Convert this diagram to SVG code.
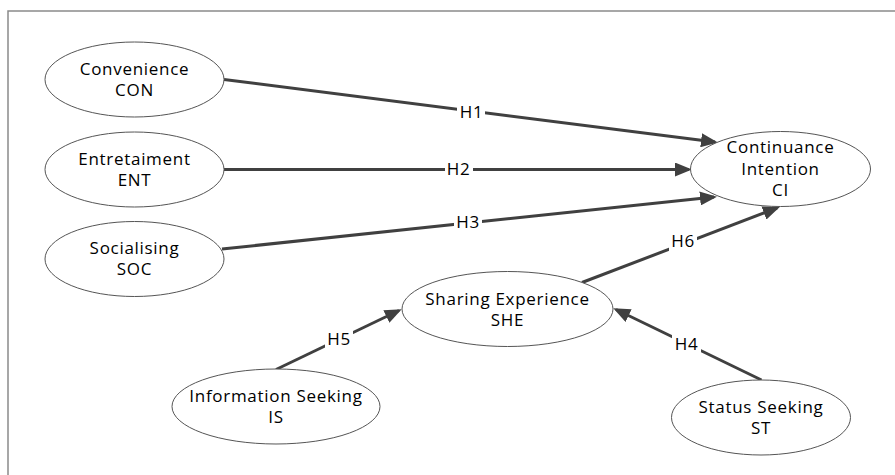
<svg xmlns="http://www.w3.org/2000/svg" width="895" height="475" viewBox="0 0 895 475">
<style>
.n ellipse{fill:#fff;stroke:#555;stroke-width:1}
text{font-family:"Open Sans","Noto Sans",sans-serif;font-size:17px;letter-spacing:0.7px;fill:#000;text-anchor:middle}
.c line{stroke:#404040;stroke-width:3;marker-end:url(#ah)}
.c rect{fill:#fff}
</style>
<defs>
<marker id="ah" markerUnits="userSpaceOnUse" markerWidth="17" markerHeight="14" refX="14" refY="7" orient="auto">
<path d="M0,0 L17,7 L0,14 z" fill="#404040"/>
</marker>
</defs>
<rect width="895" height="475" fill="#fff"/>
<path d="M8,475 V11 H895" fill="none" stroke="#8a8a8a" stroke-width="1.5"/>
<g class="c" id="connectors">
<line x1="224" y1="79.5" x2="715" y2="142"/>
<line x1="224" y1="169.5" x2="689" y2="169.5"/>
<line x1="222" y1="249" x2="714" y2="197"/>
<line x1="582" y1="282.5" x2="777" y2="208"/>
<line x1="276" y1="369.5" x2="399" y2="310.5"/>
<line x1="761.5" y1="380" x2="616" y2="309.5"/>
<rect x="457" y="101" width="28" height="22"/><text x="471.5" y="118">H1</text>
<rect x="445" y="158" width="28" height="22"/><text x="458.5" y="175">H2</text>
<rect x="454" y="210" width="28" height="22"/><text x="468" y="227.5">H3</text>
<rect x="669" y="230" width="28" height="22"/><text x="683" y="247">H6</text>
<rect x="325" y="328" width="28" height="22"/><text x="339" y="345">H5</text>
<rect x="672" y="333" width="29" height="22"/><text x="686.5" y="350">H4</text>
</g>
<g class="n" id="con"><ellipse cx="134.5" cy="79.5" rx="89.5" ry="37.5"/><text x="134.5" y="74.5">Convenience<tspan x="134.5" dy="21">CON</tspan></text></g>
<g class="n" id="ent"><ellipse cx="134.5" cy="169.5" rx="89.5" ry="37.5"/><text x="134.5" y="164.5">Entretaiment<tspan x="134.5" dy="21">ENT</tspan></text></g>
<g class="n" id="soc"><ellipse cx="134.5" cy="259" rx="89.5" ry="37.5"/><text x="134.5" y="254">Socialising<tspan x="134.5" dy="21">SOC</tspan></text></g>
<g class="n" id="ci"><ellipse cx="780.5" cy="169" rx="90" ry="37.5"/><text x="780.5" y="153">Continuance<tspan x="780.5" dy="21.5">Intention</tspan><tspan x="780.5" dy="21">CI</tspan></text></g>
<g class="n" id="she"><ellipse cx="507.5" cy="309" rx="105.5" ry="37.5"/><text x="507.5" y="304.5">Sharing Experience<tspan x="507.5" dy="21">SHE</tspan></text></g>
<g class="n" id="is"><ellipse cx="276" cy="406.5" rx="104" ry="37.5"/><text x="276" y="401.5">Information Seeking<tspan x="276" dy="21">IS</tspan></text></g>
<g class="n" id="st"><ellipse cx="761" cy="417.5" rx="89.5" ry="37.5"/><text x="761" y="412.5">Status Seeking<tspan x="761" dy="21">ST</tspan></text></g>
</svg>
